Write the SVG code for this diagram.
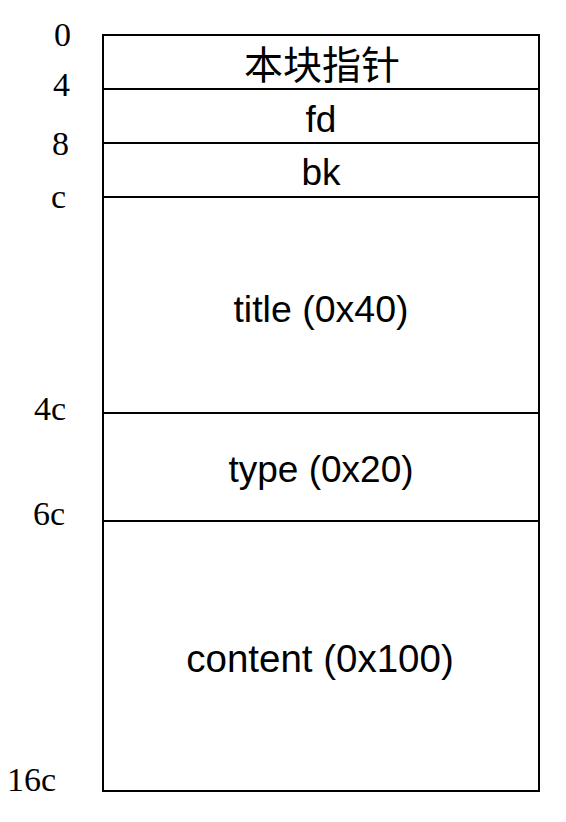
<svg xmlns="http://www.w3.org/2000/svg" width="566" height="822" viewBox="0 0 566 822">
<style>
.cell{fill:#fff;stroke:#000;stroke-width:2}
.lbl{font-family:"Liberation Sans","Noto Sans CJK SC",Arial,sans-serif;font-size:37px;fill:#000;text-anchor:middle}
.cjk{font-family:"Noto Sans CJK SC","Liberation Sans",sans-serif;font-size:39px;fill:#000;text-anchor:middle}
.off{font-family:"Liberation Serif","Times New Roman",serif;font-size:34px;fill:#000}
</style>
<rect x="0" y="0" width="566" height="822" fill="#fff"/>
<g id="cell-ptr"><rect class="cell" x="103" y="35" width="436" height="54"/><text class="cjk" x="322" y="79">本块指针</text></g>
<g id="cell-fd"><rect class="cell" x="103" y="89" width="436" height="54"/><text class="lbl" x="321" y="132">fd</text></g>
<g id="cell-bk"><rect class="cell" x="103" y="143" width="436" height="54"/><text class="lbl" x="321" y="185">bk</text></g>
<g id="cell-title"><rect class="cell" x="103" y="197" width="436" height="216"/><text class="lbl" x="321" y="322" style="font-size:37.5px">title (0x40)</text></g>
<g id="cell-type"><rect class="cell" x="103" y="413" width="436" height="108"/><text class="lbl" x="321" y="482">type (0x20)</text></g>
<g id="cell-content"><rect class="cell" x="103" y="521" width="436" height="270"/><text class="lbl" x="320" y="672" style="font-size:38.5px">content (0x100)</text></g>
<g id="offsets">
<text class="off" x="54" y="46">0</text>
<text class="off" x="53" y="96">4</text>
<text class="off" x="52" y="155">8</text>
<text class="off" x="51" y="208">c</text>
<text class="off" x="34" y="420">4c</text>
<text class="off" x="33" y="525">6c</text>
<text class="off" x="7" y="791">16c</text>
</g>
<g id="connectors"></g>
</svg>
